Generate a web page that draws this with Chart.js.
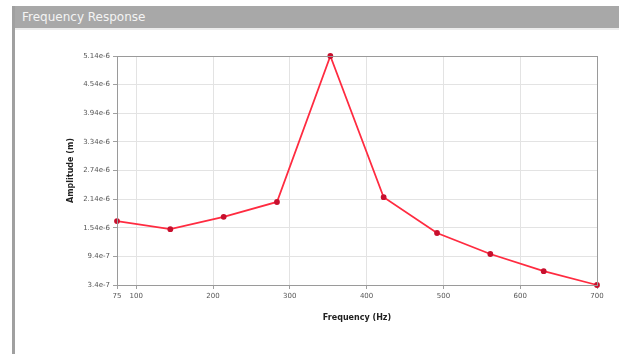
<!DOCTYPE html>
<html>
<head>
<meta charset="utf-8">
<script src="https://cdn.jsdelivr.net/npm/chart.js@4.4.0/dist/chart.umd.min.js"></script>
<style>
  html, body { margin: 0; padding: 0; background: #fff; }
  #wrap { position: relative; width: 627px; height: 354px; overflow: hidden; }
  #bar { position: absolute; left: 12px; top: 6px; width: 607px; height: 22px; background: #a8a8a8;
         color: #f4f4f4; font: 12px "DejaVu Sans", sans-serif; line-height: 22px; padding-left: 10px; box-sizing: border-box; }
  #under { position: absolute; left: 15px; top: 28px; width: 604px; height: 2px; background: #ececec; }
  #side { position: absolute; left: 12px; top: 6px; width: 3px; height: 348px; background: #a0a0a0; }
  canvas { position: absolute; left: 0; top: 0; }
</style>
</head>
<body>
<div id="wrap">
  <div id="bar">Frequency Response</div>
  <div id="under"></div>
  <div id="side"></div>
  <canvas id="c" width="627" height="354"></canvas>
</div>
<script>
const frequencies = [75, 144.4, 213.9, 283.3, 352.8, 422.2, 491.7, 561.1, 630.6, 700];
const amplitudes = [1.68e-6, 1.51e-6, 1.77e-6, 2.08e-6, 5.14e-6, 2.18e-6, 1.43e-6, 9.9e-7, 6.3e-7, 3.4e-7];
const xTicks = [75, 100, 200, 300, 400, 500, 600, 700];
const yTicks = [3.4e-7, 9.4e-7, 1.54e-6, 2.14e-6, 2.74e-6, 3.34e-6, 3.94e-6, 4.54e-6, 5.14e-6];
const yTickLabels = ["3.4e-7", "9.4e-7", "1.54e-6", "2.14e-6", "2.74e-6", "3.34e-6", "3.94e-6", "4.54e-6", "5.14e-6"];

const borderPlugin = {
  id: 'plotBorder',
  afterDatasetsDraw(chart) {
    const a = chart.chartArea, ctx = chart.ctx;
    ctx.save();
    ctx.strokeStyle = '#9a9a9a';
    ctx.lineWidth = 1;
    ctx.strokeRect(Math.round(a.left) + 0.5, Math.round(a.top) + 0.5, Math.round(a.right - a.left), Math.round(a.bottom - a.top));
    ctx.restore();
  }
};

new Chart(document.getElementById('c'), {
  type: 'line',
  data: {
    datasets: [{
      data: frequencies.map((f, i) => ({ x: f, y: amplitudes[i] })),
      borderColor: '#ff2b40',
      borderWidth: 1.8,
      pointRadius: 2,
      pointBackgroundColor: '#c8102e',
      pointBorderColor: '#c8102e',
      tension: 0,
      clip: false
    }]
  },
  options: {
    responsive: false,
    animation: false,
    devicePixelRatio: 1,
    layout: { padding: { left: 62, right: 30, top: 56, bottom: 29 } },
    plugins: { legend: { display: false }, tooltip: { enabled: false } },
    scales: {
      x: {
        type: 'linear',
        min: 75, max: 700,
        afterBuildTicks: s => { s.ticks = xTicks.map(v => ({ value: v })); },
        afterFit: s => { s.height = 40; },
        ticks: { color: '#555', font: { family: 'DejaVu Sans', size: 7 }, padding: 3, maxRotation: 0, autoSkip: false,
                 callback: v => String(v) },
        grid: { color: '#e3e3e3', tickColor: '#a0a0a0', tickLength: 4 },
        border: { color: '#9a9a9a' },
        title: { display: true, text: 'Frequency (Hz)', color: '#222',
                 font: { family: 'DejaVu Sans', size: 8, weight: 'bold' }, padding: { top: 0, bottom: 2 } }
      },
      y: {
        type: 'linear',
        min: yTicks[0], max: yTicks[yTicks.length - 1],
        afterBuildTicks: s => { s.ticks = yTicks.map(v => ({ value: v })); },
        afterFit: s => { s.width = 55; },
        ticks: { color: '#555', font: { family: 'DejaVu Sans', size: 7 }, padding: 3, autoSkip: false,
                 callback: (v, i) => yTickLabels[i] },
        grid: { color: '#e3e3e3', tickColor: '#a0a0a0', tickLength: 4 },
        border: { color: '#9a9a9a' },
        title: { display: true, text: 'Amplitude (m)', color: '#222',
                 font: { family: 'DejaVu Sans', size: 8, weight: 'bold' }, padding: { top: 4, bottom: 0 } }
      }
    }
  },
  plugins: [borderPlugin]
});
</script>
</body>
</html>
